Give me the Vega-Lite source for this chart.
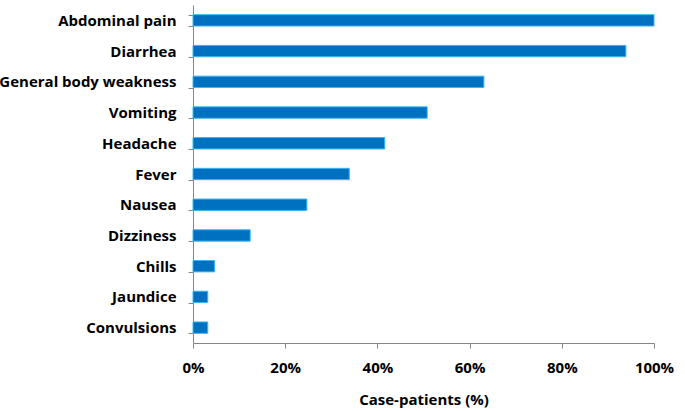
{
  "$schema": "https://vega.github.io/schema/vega-lite/v6.json",
  "width": 461,
  "height": 338,
  "autosize": {"type": "none"},
  "padding": {"left": 193, "top": 5, "right": 31, "bottom": 68},
  "background": "white",
  "config": {"view": {"stroke": null}},
  "data": {"values": [
    {"symptom": "Abdominal pain", "pct": 100},
    {"symptom": "Diarrhea", "pct": 93.9},
    {"symptom": "General body weakness", "pct": 63.1},
    {"symptom": "Vomiting", "pct": 50.8},
    {"symptom": "Headache", "pct": 41.6},
    {"symptom": "Fever", "pct": 33.9},
    {"symptom": "Nausea", "pct": 24.7},
    {"symptom": "Dizziness", "pct": 12.4},
    {"symptom": "Chills", "pct": 4.7},
    {"symptom": "Jaundice", "pct": 3.2},
    {"symptom": "Convulsions", "pct": 3.2}
  ]},
  "mark": {"type": "bar", "color": "#0070C0", "stroke": "#38B8F0", "strokeWidth": 1},
  "encoding": {
    "y": {
      "field": "symptom", "type": "nominal", "sort": null,
      "scale": {"paddingInner": 0.63, "paddingOuter": 0.315},
      "axis": {
        "title": null, "tickBand": "extent", "domainColor": "#868686", "tickColor": "#868686",
        "tickSize": 5, "labelPadding": 12, "labelFont": "Open Sans", "labelFontSize": 15,
        "labelFontWeight": "bold", "labelColor": "#000000", "grid": false, "labelLimit": 300
      }
    },
    "x": {
      "field": "pct", "type": "quantitative",
      "scale": {"domain": [0, 100], "nice": false},
      "axis": {
        "title": "Case-patients (%)", "values": [0, 20, 40, 60, 80, 100],
        "labelExpr": "datum.value + '%'", "grid": false, "labelFlush": false,
        "domainColor": "#868686", "tickColor": "#868686", "tickSize": 5,
        "labelPadding": 12, "labelFont": "Open Sans", "labelFontSize": 15,
        "labelFontWeight": "bold", "labelColor": "#000000",
        "titleFont": "Open Sans", "titleFontSize": 15, "titleFontWeight": "bold",
        "titleColor": "#000000", "titlePadding": 17
      }
    }
  }
}
